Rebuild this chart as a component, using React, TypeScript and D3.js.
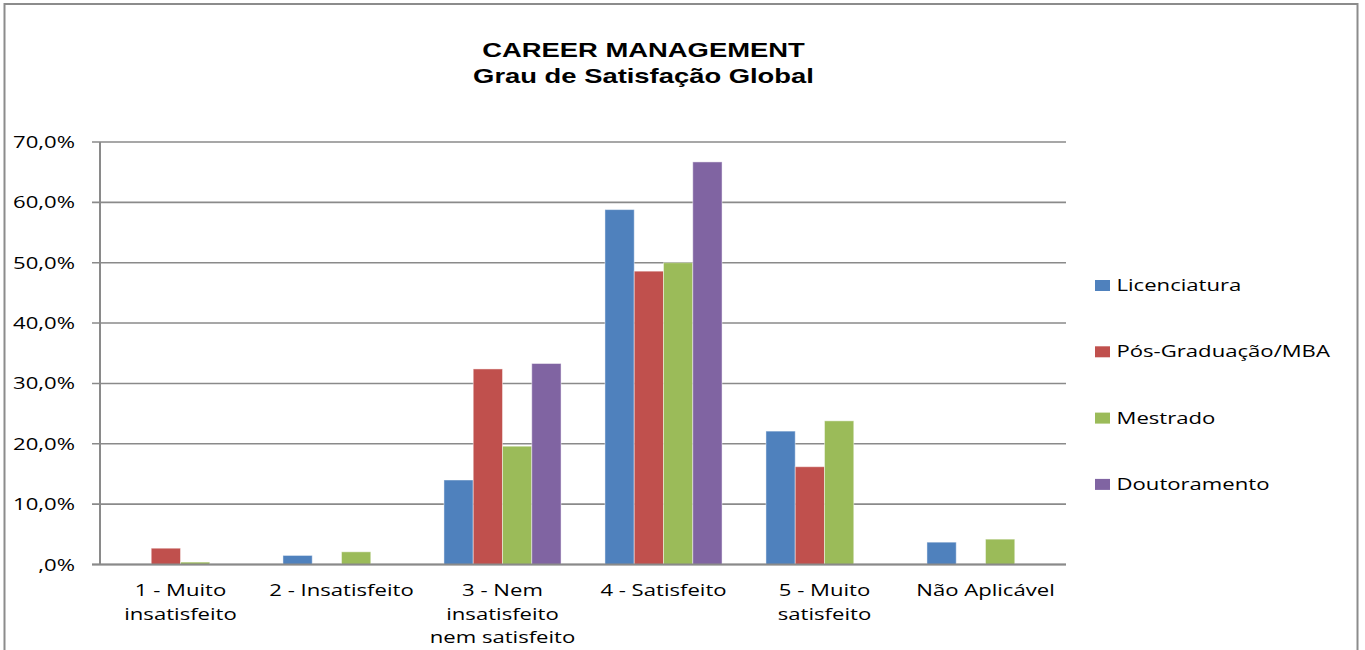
import React from "react";
import * as d3 from "d3";

const categories: string[][] = [
  ["1 - Muito", "insatisfeito"],
  ["2 - Insatisfeito"],
  ["3 - Nem", "insatisfeito", "nem satisfeito"],
  ["4 - Satisfeito"],
  ["5 - Muito", "satisfeito"],
  ["Não Aplicável"],
];
const seriesNames = ["Licenciatura", "Pós-Graduação/MBA", "Mestrado", "Doutoramento"];
const licenciatura = [0, 1.5, 14.0, 58.8, 22.1, 3.7];
const posGraduacao = [2.7, 0, 32.4, 48.6, 16.2, 0];
const mestrado = [0.4, 2.1, 19.6, 50.0, 23.8, 4.2];
const doutoramento = [0, 0, 33.3, 66.7, 0, 0];
const seriesValues = [licenciatura, posGraduacao, mestrado, doutoramento];
const colors = ["#4F81BD", "#C0504D", "#9BBB59", "#8064A2"];
const yTicks = [0, 10, 20, 30, 40, 50, 60, 70];
const titleLines = ["CAREER MANAGEMENT", "Grau de Satisfação Global"];

const W = 1365;
const H = 650;
const SX = 1.34;
const font = "'Open Sans', sans-serif";

export default function App() {
  const x0 = 100, x1 = 1066, yTop = 142, yBot = 564.5;
  const xCat = d3.scaleBand<number>().domain(d3.range(categories.length)).range([x0, x1]).padding(0);
  const xSer = d3
    .scaleBand<number>()
    .domain(d3.range(seriesNames.length))
    .range([0, xCat.bandwidth()])
    .paddingInner(0)
    .paddingOuter(0.75);
  const y = d3.scaleLinear().domain([0, 70]).range([yBot, yTop]);
  const fmt = (v: number) => (v === 0 ? ",0%" : `${v},0%`);

  return (
    <svg width={W} height={H} style={{ position: "absolute", left: 0, top: 0, background: "#fff" }}>
      <rect x={0} y={0} width={W} height={H} fill="#fff" />
      <rect x={4.5} y={4} width={1353} height={660} fill="none" stroke="#8c8c8c" strokeWidth={2} />
      {titleLines.map((t, i) => (
        <text
          key={t}
          transform={`translate(643.5,${57 + i * 26}) scale(1.37,1)`}
          textAnchor="middle"
          fontFamily="'Liberation Sans', Arial, sans-serif"
          fontWeight="bold"
          fontSize={20}
          fill="#000"
        >
          {t}
        </text>
      ))}
      {/* gridlines and y ticks */}
      {yTicks.map((t) => (
        <g key={t}>
          <line x1={92} x2={x1} y1={y(t)} y2={y(t)} stroke="#8a8a8a" strokeWidth={1.6} />
          <text
            transform={`translate(75,${y(t) + 6}) scale(${SX},1)`}
            textAnchor="end"
            fontFamily={font}
            fontSize={16.5}
            fill="#000"
          >
            {fmt(t)}
          </text>
        </g>
      ))}
      {/* bars */}
      {seriesValues.map((vals, s) =>
        vals.map((v, c) =>
          v > 0 ? (
            <rect
              key={`${s}-${c}`}
              x={(xCat(c) as number) + (xSer(s) as number)}
              y={y(v)}
              width={xSer.bandwidth()}
              height={yBot - y(v)}
              fill={colors[s]}
              stroke="rgba(255,255,255,0.45)"
              strokeWidth={1}
            />
          ) : null
        )
      )}
      {/* axes lines */}
      <line x1={x0} x2={x0} y1={yTop} y2={yBot} stroke="#8a8a8a" strokeWidth={2} />
      <line x1={92} x2={x1} y1={yBot} y2={yBot} stroke="#8a8a8a" strokeWidth={2} />
      {/* category labels */}
      {categories.map((lines, c) => (
        <g key={c}>
          {lines.map((ln, i) => (
            <text
              key={i}
              transform={`translate(${(xCat(c) as number) + xCat.bandwidth() / 2},${596 + i * 23.5}) scale(${SX},1)`}
              textAnchor="middle"
              fontFamily={font}
              fontSize={16.5}
              fill="#000"
            >
              {ln}
            </text>
          ))}
        </g>
      ))}
      {/* legend */}
      {seriesNames.map((n, i) => (
        <g key={n}>
          <rect x={1095} y={280 + i * 66.3} width={15} height={11} fill={colors[i]} />
          <text
            transform={`translate(1116.5,${291 + i * 66.3}) scale(${SX},1)`}
            fontFamily={font}
            fontSize={16.5}
            fill="#000"
          >
            {n}
          </text>
        </g>
      ))}
    </svg>
  );
}
